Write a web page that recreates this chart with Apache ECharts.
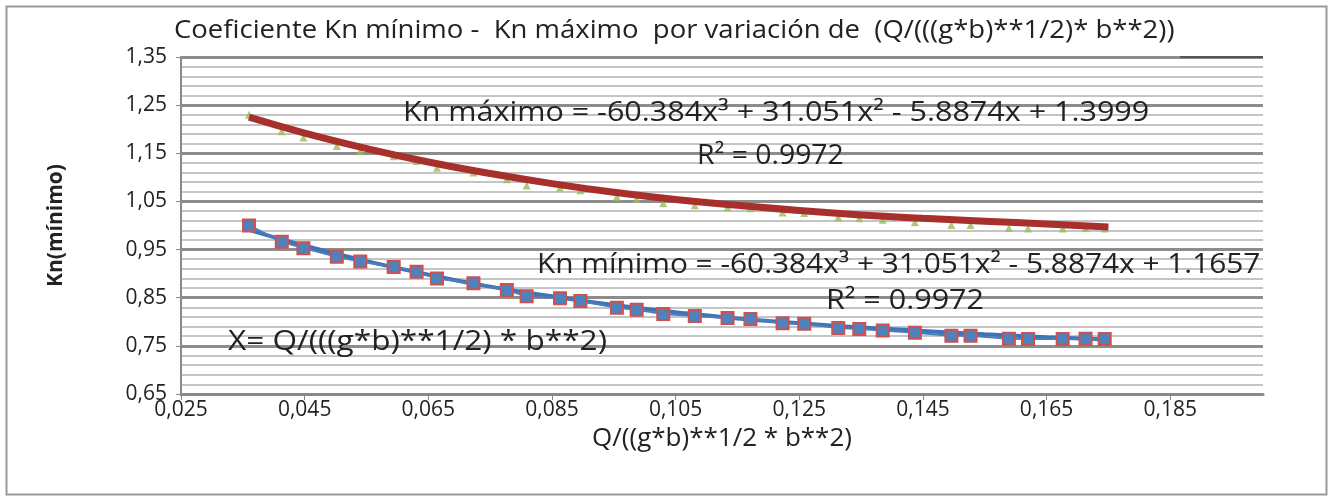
<!DOCTYPE html>
<html>
<head>
<meta charset="utf-8">
<script src="https://cdn.jsdelivr.net/npm/echarts@6/dist/echarts.min.js"></script>
<style>
  html, body { margin: 0; padding: 0; background: #fff; }
  #chart { width: 1330px; height: 498px; }
</style>
</head>
<body>
<div id="chart"></div>
<script>
// valores
const xValues = [0.0360, 0.0413, 0.0448, 0.0502, 0.0540, 0.0594, 0.0631, 0.0664, 0.0723, 0.0777, 0.0809,
  0.0863, 0.0896, 0.0955, 0.0987, 0.1030, 0.1081, 0.1134, 0.1171, 0.1223, 0.1258, 0.1313, 0.1347,
  0.1385, 0.1437, 0.1496, 0.1527, 0.1589, 0.1620, 0.1676, 0.1713, 0.1744]
const knMinimo = [1.000, 0.966, 0.953, 0.935, 0.925, 0.914, 0.904, 0.890, 0.880, 0.866, 0.853,
  0.849, 0.843, 0.829, 0.825, 0.816, 0.812, 0.808, 0.806, 0.797, 0.796, 0.787, 0.785,
  0.782, 0.777, 0.771, 0.771, 0.765, 0.764, 0.764, 0.765, 0.764]
const knMaximo = [1.230, 1.196, 1.183, 1.165, 1.155, 1.144, 1.134, 1.120, 1.110, 1.096, 1.083,
  1.079, 1.073, 1.059, 1.055, 1.046, 1.042, 1.038, 1.036, 1.027, 1.026, 1.017, 1.015,
  1.012, 1.007, 1.001, 1.001, 0.995, 0.994, 0.994, 0.995, 0.994]

// lineas de tendencia
const trendX = [0.036, 0.045, 0.055, 0.065, 0.075, 0.085, 0.095, 0.105, 0.115, 0.125, 0.135, 0.145, 0.155, 0.165, 0.175]
const trendMaximo = [1.225, 1.192, 1.160, 1.132, 1.108, 1.087, 1.069, 1.054, 1.042, 1.031, 1.022, 1.015, 1.009, 1.003, 0.997]
const trendMinimo = [0.991, 0.958, 0.926, 0.898, 0.873, 0.853, 0.835, 0.820, 0.807, 0.797, 0.788, 0.781, 0.774, 0.768, 0.763]

const xTicks = [0.025, 0.045, 0.065, 0.085, 0.105, 0.125, 0.145, 0.165, 0.185]
const yTicks = [0.65, 0.75, 0.85, 0.95, 1.05, 1.15, 1.25, 1.35]
const yMinorTicks = [0.65, 0.67, 0.69, 0.71, 0.73, 0.75, 0.77, 0.79, 0.81, 0.83, 0.85, 0.87, 0.89, 0.91,
  0.93, 0.95, 0.97, 0.99, 1.01, 1.03, 1.05, 1.07, 1.09, 1.11, 1.13, 1.15, 1.17, 1.19, 1.21, 1.23,
  1.25, 1.27, 1.29, 1.31, 1.33, 1.35]

const FONT = "'Open Sans', 'Noto Sans', sans-serif"

const pairs = (xs, ys) => xs.map((x, i) => [x, ys[i]])

// texto ancho como en la imagen original (estirada)
const label = (text, left, top, size, sx) => ({
  type: "text", left: left, top: top, z: 10, scaleX: sx,
  style: { text: text, font: size + "px " + FONT, fill: "#222" }
})

const chart = echarts.init(document.getElementById("chart"))

const options = {
  animation: false,
  backgroundColor: "#fff",
  grid: { left: 181, right: 67, top: 57, bottom: 104, outerBoundsMode: "none" },
  xAxis: {
    type: "value",
    min: 0.025,
    max: 0.2,
    name: "Q/((g*b)**1/2 * b**2)",
    nameLocation: "middle",
    nameGap: 32,
    nameTextStyle: { fontFamily: FONT, fontSize: 26, color: "#222" },
    axisLine: { show: true, lineStyle: { color: "#8a8a8a", width: 3 } },
    axisTick: { show: true, customValues: xTicks, length: 6, lineStyle: { color: "#888", width: 1 } },
    axisLabel: {
      customValues: xTicks,
      fontFamily: FONT, fontSize: 21, color: "#222", margin: 6,
      formatter: (v) => v.toFixed(3).replace(".", ",")
    },
    splitLine: { show: false }
  },
  yAxis: [
    {
      // lineas secundarias
      type: "value",
      position: "left",
      min: 0.65,
      max: 1.35,
      axisLine: { show: false },
      axisTick: { show: false, customValues: yMinorTicks },
      axisLabel: { show: false, customValues: yMinorTicks },
      splitLine: { show: true, lineStyle: { color: "#c4c4c4", width: 2 } }
    },
    {
      type: "value",
      position: "left",
      min: 0.65,
      max: 1.35,
      name: "Kn(mínimo)",
      nameLocation: "middle",
      nameGap: 114,
      nameRotate: 90,
      nameTextStyle: { fontFamily: FONT, fontSize: 21, color: "#222", fontWeight: "bold" },
      axisLine: { show: true, lineStyle: { color: "#8a8a8a", width: 2 } },
      axisTick: { show: true, customValues: yTicks, length: 5, lineStyle: { color: "#888" } },
      axisLabel: {
        customValues: yTicks,
        fontFamily: FONT, fontSize: 21, color: "#222", margin: 14,
        formatter: (v) => v.toFixed(2).replace(".", ",")
      },
      splitLine: { show: true, lineStyle: { color: "#8c8c8c", width: 3 } }
    }
  ],
  graphic: [
    { type: "rect", left: 4, top: 4, shape: { width: 1320, height: 488 },
      style: { fill: null, stroke: "#9a9a9a", lineWidth: 2 }, silent: true },
    { type: "line", shape: { x1: 1180, y1: 57, x2: 1263, y2: 57 },
      style: { stroke: "#555", lineWidth: 2 }, z: 10 },
    label("Coeficiente Kn mínimo -  Kn máximo  por variación de  (Q/(((g*b)**1/2)* b**2))", 174, 18, 25, 1.1),
    label("Kn máximo = -60.384x³ + 31.051x² - 5.8874x + 1.3999", 403, 100, 27, 1.13),
    label("R² = 0.9972", 697, 143, 27, 1.05),
    label("Kn mínimo = -60.384x³ + 31.051x² - 5.8874x + 1.1657", 537, 252, 27, 1.105),
    label("R² = 0.9972", 826, 288, 27, 1.13),
    label("X= Q/(((g*b)**1/2) * b**2)", 228, 329, 27, 1.17)
  ],
  series: [
    {
      name: "Kn mínimo tendencia",
      type: "line",
      yAxisIndex: 1,
      data: pairs(trendX, trendMinimo),
      smooth: true,
      symbol: "none",
      lineStyle: { color: "#3f73b8", width: 4 },
      z: 2
    },
    {
      name: "Kn mínimo",
      type: "line",
      yAxisIndex: 1,
      data: pairs(xValues, knMinimo),
      symbol: "rect",
      symbolSize: 12,
      lineStyle: { color: "#4a7ebb", width: 2 },
      itemStyle: { color: "#4f81bd", borderColor: "#d0504d", borderWidth: 2 },
      z: 3
    },
    {
      name: "Kn máximo",
      type: "scatter",
      yAxisIndex: 1,
      data: pairs(xValues, knMaximo),
      symbol: "triangle",
      symbolSize: 8,
      itemStyle: { color: "#9bbb59" },
      z: 2
    },
    {
      name: "Kn máximo tendencia",
      type: "line",
      yAxisIndex: 1,
      data: pairs(trendX, trendMaximo),
      smooth: true,
      symbol: "none",
      lineStyle: { color: "#a8302c", width: 7 },
      z: 4
    }
  ]
}

chart.setOption(options)
</script>
</body>
</html>
